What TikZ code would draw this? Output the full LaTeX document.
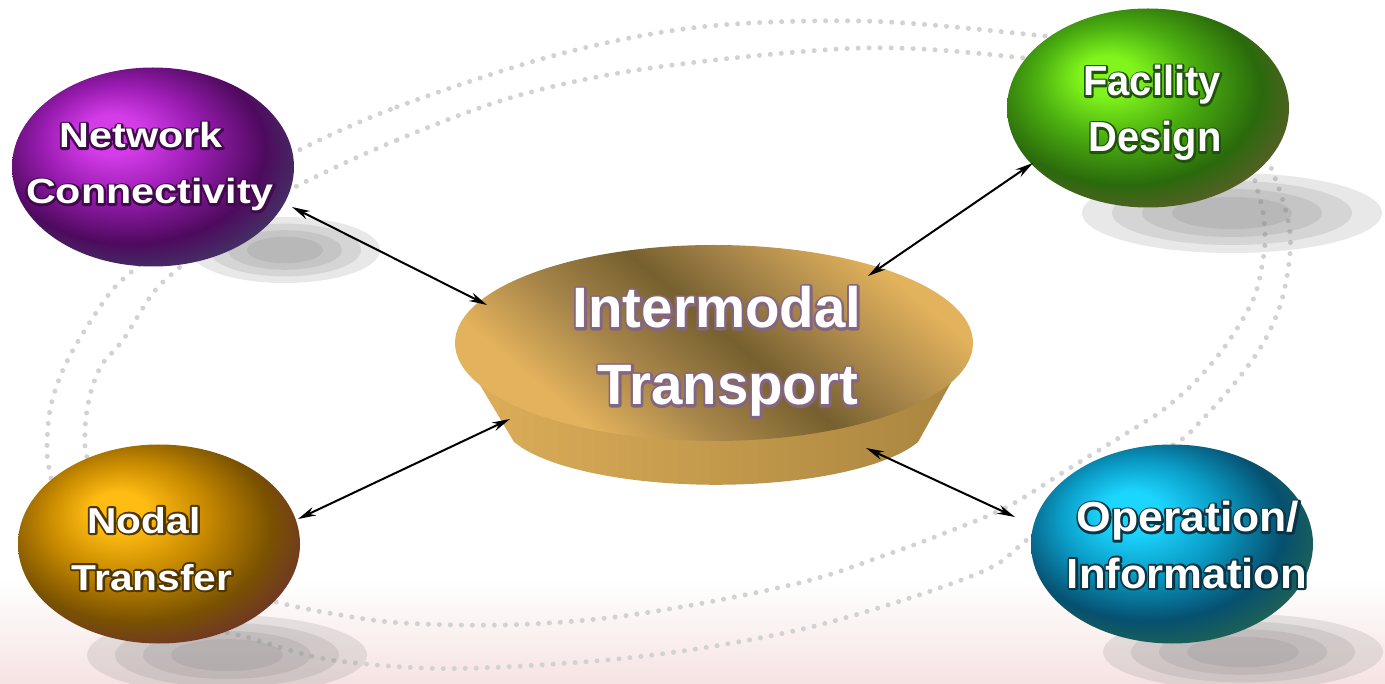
\documentclass[tikz,border=0pt]{standalone}
\usepackage{fontspec}
\setmainfont{Liberation Sans}
\usepackage{graphicx}
\usetikzlibrary{arrows.meta,shapes.geometric,calc}

\definecolor{bgpink}{HTML}{F6E3E3}
\definecolor{dotgray}{HTML}{D2D2D2}
% purple
\definecolor{pA}{HTML}{D43CE8}\definecolor{pB}{HTML}{9A1CB2}\definecolor{pC}{HTML}{4E0A5E}\definecolor{pD}{HTML}{3E4468}
% green
\definecolor{gA}{HTML}{80F41C}\definecolor{gB}{HTML}{4CB010}\definecolor{gC}{HTML}{2A6A0C}\definecolor{gD}{HTML}{6A5A32}
% gold
\definecolor{oA}{HTML}{FFBC12}\definecolor{oB}{HTML}{C88A00}\definecolor{oC}{HTML}{7A5200}\definecolor{oD}{HTML}{6A2A3A}
% teal
\definecolor{tA}{HTML}{1CD6FF}\definecolor{tB}{HTML}{0A9EC8}\definecolor{tC}{HTML}{065070}\definecolor{tD}{HTML}{2A6A48}
% disc
\definecolor{discL}{HTML}{E2B25C}\definecolor{discM}{HTML}{A8864A}\definecolor{discD}{HTML}{76602F}
\definecolor{sideL}{HTML}{DEAF5A}\definecolor{sideR}{HTML}{A8843E}

\pgfdeclareradialshading{sphP}{\pgfpoint{-8bp}{9bp}}{color(0bp)=(pA); color(5bp)=(pA); color(14bp)=(pB); color(24bp)=(pC); color(33bp)=(pD); color(50bp)=(pD)}
\pgfdeclareradialshading{sphG}{\pgfpoint{-8bp}{9bp}}{color(0bp)=(gA); color(5bp)=(gA); color(14bp)=(gB); color(24bp)=(gC); color(33bp)=(gD); color(50bp)=(gD)}
\pgfdeclareradialshading{sphO}{\pgfpoint{-8bp}{9bp}}{color(0bp)=(oA); color(5bp)=(oA); color(14bp)=(oB); color(24bp)=(oC); color(33bp)=(oD); color(50bp)=(oD)}
\pgfdeclareradialshading{sphT}{\pgfpoint{-8bp}{9bp}}{color(0bp)=(tA); color(5bp)=(tA); color(14bp)=(tB); color(24bp)=(tC); color(33bp)=(tD); color(50bp)=(tD)}
\pgfdeclarehorizontalshading{discsh}{100bp}{color(0bp)=(discL); color(29bp)=(discL); color(40bp)=(discM); color(52bp)=(discD); color(62bp)=(discM); color(74bp)=(discL); color(100bp)=(discL)}

\tikzset{
  sphere/.style={ellipse, shade, minimum width=282pt, minimum height=199pt, inner sep=0pt},
  txt/.style={anchor=base, inner sep=0pt, font=\bfseries, text=white},
  dotline/.style={draw=dotgray, line width=5pt, line cap=round, dash pattern=on 0pt off 11pt},
  shadowfill/.style={fill=black!50, opacity=0.18},
  arr/.style={{Stealth[length=18pt,width=9pt]}-{Stealth[length=18pt,width=9pt]}, line width=2pt, draw=black},
}

% white text over a dark stroked halo copy, in one node
\newcommand\glowtext[7]{%
  \node[txt] (#1) at #2 {\fontsize{#4}{#4}\selectfont\scalebox{#5}[1]{%
    \rlap{\special{pdf:literal direct 1 Tr #6 w 1 j #3 RG}#7\special{pdf:literal direct 0 Tr}}#7}};
}

\newcommand\shadowat[4]{%
  \foreach \k in {1.0,0.8,0.6,0.4}{%
    \fill[shadowfill] (#1,#2) ellipse [x radius=\k*#3, y radius=\k*#4];
  }%
}

\begin{document}
\begin{tikzpicture}[x=1pt,y=-1pt]
\useasboundingbox (0,0) rectangle (1385,684);
\fill[white] (0,0) rectangle (1385,684);
\shade[top color=white, bottom color=bgpink] (0,580) rectangle (1385,684);

% dotted orbits
\draw[dotline] plot[smooth cycle, tension=0.55] coordinates {
 (293,153) (397,107) (556,55) (700,27) (862,21) (1015,33) (1100,45) (1180,75) (1250,130) (1278,186)
 (1290,233) (1288,270) (1280,306) (1265,340) (1245,370) (1222,398) (1197,425) (1178,442) (1120,475)
 (1060,512) (1023,543) (990,568) (913,597) (811,627) (709,647) (607,660) (480,668) (403,667) (320,658)
 (250,638) (180,620) (110,585) (65,530) (50,473) (47,447) (50,410) (60,377) (77,343) (110,293) (137,267)
 (190,222) (245,183)};
\draw[dotline] plot[smooth cycle, tension=0.55] coordinates {
 (293,188) (397,140) (520,95) (658,67) (862,48) (1015,57) (1100,72) (1180,105) (1240,150) (1260,199)
 (1265,233) (1263,260) (1255,295) (1238,327) (1217,357) (1192,385) (1163,410) (1143,423) (1070,468)
 (1007,507) (940,535) (880,557) (811,580) (709,602) (607,618) (505,625) (403,623) (340,615) (280,603)
 (220,585) (150,550) (105,505) (87,457) (85,433) (87,410) (93,385) (103,363) (123,340) (153,293)
 (180,267) (230,225)};

% shadows
\shadowat{285}{250}{95}{33}
\shadowat{1232}{213}{150}{40}
\shadowat{227}{655}{140}{40}
\shadowat{1243}{652}{140}{38}

% central disc
\shade[left color=sideL, right color=sideR]
  (455,343) -- (514,442) arc[start angle=160, end angle=20, x radius=215, y radius=65] -- (973,343) -- cycle;
\shade[shading=discsh, shading angle=50]
  (714,343) ellipse [x radius=259, y radius=98];
\coordinate (disc) at (714,343);

% satellite spheres
\node[sphere, shading=sphP] (net) at (153,167) {};
\node[sphere, shading=sphG] (fac) at (1148,108) {};
\node[sphere, shading=sphO] (nod) at (159,544) {};
\node[sphere, shading=sphT] (ope) at (1172,544) {};

% arrow end points
\coordinate (netA) at (292,207);  \coordinate (discN) at (487,305);
\coordinate (facA) at (1033,163); \coordinate (discF) at (868,276);
\coordinate (nodA) at (298,519);  \coordinate (discO) at (510,419);
\coordinate (opeA) at (1015,517); \coordinate (discT) at (866,448);
\draw[arr] (netA) -- (discN);
\draw[arr] (facA) -- (discF);
\draw[arr] (nodA) -- (discO);
\draw[arr] (opeA) -- (discT);

% labels
\glowtext{t1}{(717,328)}{0.52 0.40 0.50}{57}{0.99}{5}{Intermodal}
\glowtext{t2}{(728,405)}{0.52 0.40 0.50}{57}{0.99}{5}{Transport}
\glowtext{n1}{(141,148)}{0.25 0.04 0.30}{35}{1.18}{4}{Network}
\glowtext{n2}{(150,204)}{0.25 0.04 0.30}{35}{1.18}{4}{Connectivity}
\glowtext{f1}{(1152,96)}{0.12 0.32 0.04}{42}{0.95}{4}{Facility}
\glowtext{f2}{(1155,152)}{0.12 0.32 0.04}{42}{0.95}{4}{Design}
\glowtext{o1}{(144,533)}{0.32 0.21 0.00}{36}{1.13}{4}{Nodal}
\glowtext{o2}{(152,590)}{0.32 0.21 0.00}{36}{1.13}{4}{Transfer}
\glowtext{p1}{(1188,532)}{0.03 0.21 0.27}{42}{1.06}{4}{Operation/}
\glowtext{p2}{(1187,588)}{0.03 0.21 0.27}{42}{1.04}{4}{Information}
\end{tikzpicture}
\end{document}
